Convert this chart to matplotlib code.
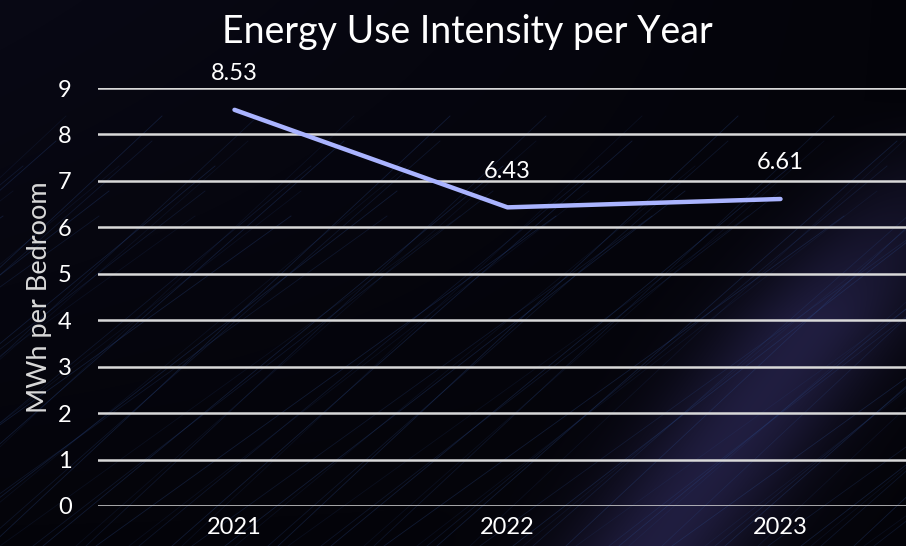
import numpy as np
import matplotlib
matplotlib.use("Agg")
import matplotlib.pyplot as plt

# ---- data ----
years = ["2021", "2022", "2023"]
eui = [8.53, 6.43, 6.61]
y_ticks = [0, 1, 2, 3, 4, 5, 6, 7, 8, 9]

fig = plt.figure(figsize=(9.06, 5.46), dpi=100)
fig.patch.set_facecolor("#05050a")

# background: dark with a soft diagonal violet glow on the right
bg = fig.add_axes([0, 0, 1, 1], zorder=0)
h, w = 546, 906
yy, xx = np.mgrid[0:h, 0:w]
d = xx - (940 - (yy - 150) * 0.72)          # distance from the glow band
glow = np.exp(-(d / 90.0) ** 2) * np.clip((yy - 100) / 220, 0, 1)
base = 0.025 + 0.03 * (1 - yy / h) * (1 - xx / w)
img = np.zeros((h, w, 3))
img[..., 0] = base * 0.6 + glow * 0.11
img[..., 1] = base * 0.6 + glow * 0.10
img[..., 2] = base * 1.5 + glow * 0.21
bg.imshow(np.clip(img, 0, 1), origin="upper", aspect="auto", extent=[0, w, h, 0])
# faint streaks
for k in range(-40, 50):
    x0 = k * 19 + (k * 37) % 23
    bg.plot([x0, x0 + 460], [h, h - 330 - (k % 5) * 25], color="#2b4a8a",
            lw=0.6, alpha=0.15 + 0.08 * (k % 3))
bg.set_xlim(0, w)
bg.set_ylim(h, 0)
bg.axis("off")

# main chart
ax = fig.add_axes([98 / 906, 40 / 546, 819 / 906, 418 / 546], zorder=1)
ax.patch.set_alpha(0)
x = np.arange(len(years))
ax.plot(x, eui, color="#aab4ff", lw=3.2, solid_capstyle="round", zorder=3)
for xi, v in zip(x, eui):
    ax.annotate(f"{v:.2f}", (xi, v), xytext=(0, 26), textcoords="offset points",
                ha="center", va="center", color="white", fontsize=17, family="Lato")

ax.set_xlim(-0.5, 2.5)
ax.set_ylim(0, 9)
ax.set_yticks(y_ticks)
ax.set_xticks(x)
ax.set_xticklabels(years)
ax.yaxis.grid(True, color="#d9d9d9", lw=1.8)
ax.set_axisbelow(True)
for s in ax.spines.values():
    s.set_visible(False)
ax.tick_params(length=0, colors="white", labelsize=17)
ax.tick_params(axis="y", pad=19)
ax.tick_params(axis="x", pad=8)
for lab in ax.get_xticklabels() + ax.get_yticklabels():
    lab.set_family("Lato")
ax.set_ylabel("MWh per Bedroom", color="#d9d9d9", fontsize=19.5, family="Lato",
              labelpad=4)

fig.text(467 / 906, 1 - 32 / 546, "Energy Use Intensity per Year", color="white",
         fontsize=27, family="Lato", ha="center", va="center")

fig.savefig("out.png", dpi=100, facecolor=fig.get_facecolor())
